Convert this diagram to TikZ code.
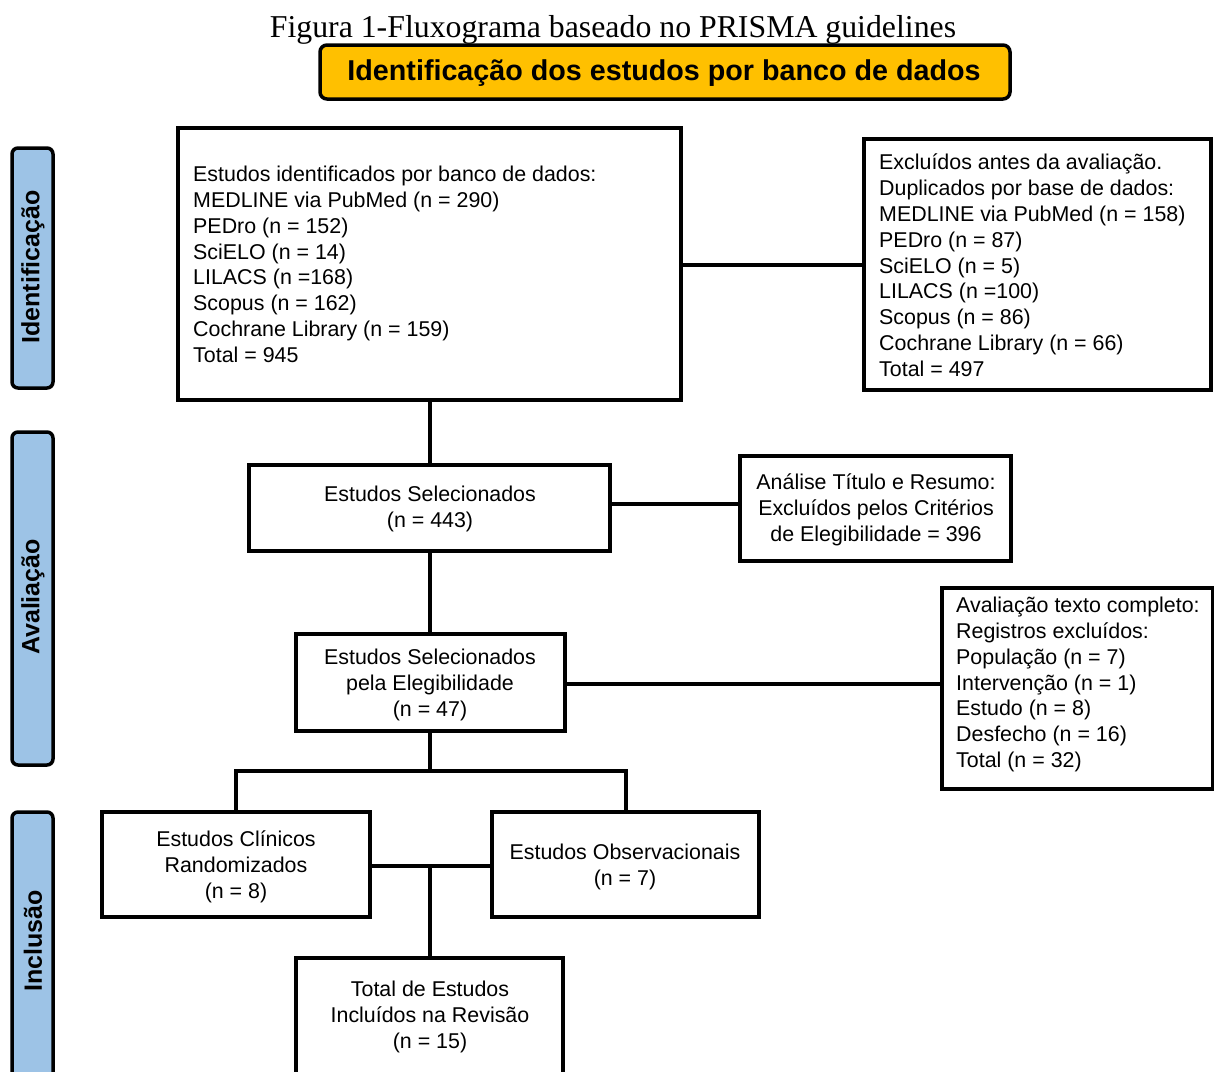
\documentclass[tikz,border=0pt]{standalone}
\usepackage{fontspec}
\setmainfont{Liberation Sans}
\newfontfamily\titlefont{Liberation Serif}
\begin{document}
\begin{tikzpicture}[x=1pt,y=-1pt,
  box/.style={draw=black,line width=3.5pt,fill=white},
  conn/.style={draw=black,line width=3.5pt},
  side/.style={draw=black,line width=3.5pt,fill=sideblue,rounded corners=6pt},
  txt/.style={font=\fontsize{21.4}{25.8}\selectfont,inner sep=0pt},
  sidetxt/.style={font=\bfseries\fontsize{25}{27}\selectfont,rotate=90,inner sep=0pt}]
\definecolor{sideblue}{HTML}{9DC3E6}
\definecolor{hdr}{HTML}{FFC000}
\useasboundingbox (0,0) rectangle (1214,1071);
\clip (0,0) rectangle (1214,1071);
\fill[white] (0,0) rectangle (1214,1071);
% title
\node[font=\titlefont\fontsize{31.8}{34}\selectfont,inner sep=0pt] (title) at (613,30) {Figura 1-Fluxograma baseado no PRISMA guidelines};
% header
\draw[line width=3.5pt,fill=hdr,rounded corners=7pt] (320,45) rectangle (1010,99);
\node[font=\bfseries\fontsize{28.7}{30}\selectfont,inner sep=0pt] (hdr) at (664,73) {Identificação dos estudos por banco de dados};
% side bars
\draw[side] (12,148) rectangle (53,388);
\node[sidetxt] (s1) at (33,267) {Identificação};
\draw[side] (12,432) rectangle (53,765);
\node[sidetxt] (s2) at (33,597) {Avaliação};
\draw[side] (12,812) rectangle (53,1090);
\node[sidetxt] (s3) at (33,941) {Inclusão};
% coordinates for boxes
\coordinate (b1nw) at (178,128); \coordinate (b1se) at (681,400);
\coordinate (b2nw) at (864,139); \coordinate (b2se) at (1211,390);
\coordinate (b3nw) at (249,465); \coordinate (b3se) at (610,551);
\coordinate (b4nw) at (740,456); \coordinate (b4se) at (1011,561);
\coordinate (b5nw) at (296,634); \coordinate (b5se) at (565,731);
\coordinate (b6nw) at (942,588); \coordinate (b6se) at (1213,789);
\coordinate (b7nw) at (102,812); \coordinate (b7se) at (370,917);
\coordinate (b8nw) at (492,812); \coordinate (b8se) at (759,917);
\coordinate (b9nw) at (296,958); \coordinate (b9se) at (563,1090);
% connectors
\coordinate (j1) at (430,771);
\coordinate (j2) at (430,866);
\coordinate (j1l) at (236,771);
\coordinate (j1r) at (626,771);
\draw[conn] (681,265) -- (864,265);
\draw[conn] (430,400) -- (430,465);
\draw[conn] (610,504) -- (740,504);
\draw[conn] (430,551) -- (430,634);
\draw[conn] (565,684) -- (942,684);
\draw[conn,line join=miter] (430,731) -- (j1);
\draw[conn,line join=miter] (236,812) -- (j1l) -- (j1r) -- (626,812);
\draw[conn] (370,866) -- (492,866);
\draw[conn] (j2) -- (430,958);
% boxes
\draw[box] (b1nw) rectangle (b1se);
\draw[box] (b2nw) rectangle (b2se);
\draw[box] (b3nw) rectangle (b3se);
\draw[box] (b4nw) rectangle (b4se);
\draw[box] (b5nw) rectangle (b5se);
\draw[box] (b6nw) rectangle (b6se);
\draw[box] (b7nw) rectangle (b7se);
\draw[box] (b8nw) rectangle (b8se);
\draw[box] (b9nw) rectangle (b9se);
% texts
\node[txt,anchor=north west,align=left] (t1) at (193,166) {Estudos identificados por banco de dados:\\MEDLINE via PubMed (n = 290)\\PEDro (n = 152)\\SciELO (n = 14)\\LILACS (n =168)\\Scopus (n = 162)\\Cochrane Library (n = 159)\\Total = 945};
\node[txt,anchor=north west,align=left] (t2) at (879,154) {Excluídos antes da avaliação.\\Duplicados por base de dados:\\MEDLINE via PubMed (n = 158)\\PEDro (n = 87)\\SciELO (n = 5)\\LILACS (n =100)\\Scopus (n = 86)\\Cochrane Library (n = 66)\\Total = 497};
\node[txt,align=center] (t3) at (430,509) {Estudos Selecionados\\(n = 443)};
\node[txt,align=center] (t4) at (876,510) {Análise Título e Resumo:\\Excluídos pelos Critérios\\de Elegibilidade = 396};
\node[txt,align=center] (t5) at (430,685) {Estudos Selecionados\\pela Elegibilidade\\(n = 47)};
\node[txt,anchor=north west,align=left] (t6) at (956,597) {Avaliação texto completo:\\Registros excluídos:\\População (n = 7)\\Intervenção (n = 1)\\Estudo (n = 8)\\Desfecho (n = 16)\\Total (n = 32)};
\node[txt,align=center] (t7) at (236,867) {Estudos Clínicos\\Randomizados\\(n = 8)};
\node[txt,align=center] (t8) at (625,867) {Estudos Observacionais\\(n = 7)};
\node[txt,align=center] (t9) at (430,1017) {Total de Estudos\\Incluídos na Revisão\\(n = 15)};
\end{tikzpicture}
\end{document}
